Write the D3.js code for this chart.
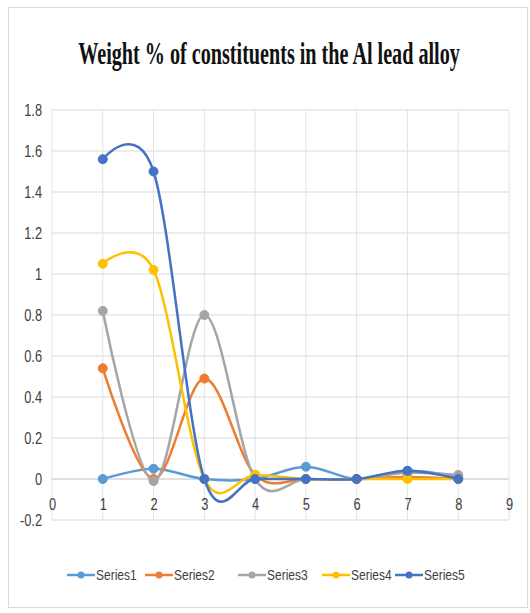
<!DOCTYPE html>
<html><head><meta charset="utf-8">
<script src="https://cdn.jsdelivr.net/npm/d3@7"></script>
<style>body{margin:0;background:#fff}</style>
</head><body>
<svg id="c" width="530" height="613"></svg>
<script>
const xValues = [1,2,3,4,5,6,7,8];
const seriesNames = ["Series1","Series2","Series3","Series4","Series5"];
const series1 = [0, 0.05, 0, 0, 0.06, 0, 0.04, 0.01];
const series2 = [0.54, 0, 0.49, 0.02, 0, 0, 0.01, 0];
const series3 = [0.82, -0.01, 0.8, 0, 0, 0, 0.03, 0.02];
const series4 = [1.05, 1.02, 0, 0.02, 0, 0, 0, 0];
const series5 = [1.56, 1.5, 0, 0, 0, 0, 0.04, 0];
const yTicks = [-0.2,0,0.2,0.4,0.6,0.8,1,1.2,1.4,1.6,1.8];
const xTicks = [0,1,2,3,4,5,6,7,8,9];
const colors = ["#5B9BD5","#ED7D31","#A5A5A5","#FFC000","#4472C4"];
const title = "Weight % of constituents in the Al lead alloy";

const svg = d3.select("#c");
svg.append("rect").attr("x",8.5).attr("y",7.5).attr("width",519).attr("height",600)
  .attr("fill","#fff").attr("stroke","#d9d9d9");

const x = d3.scaleLinear().domain([0,9]).range([52,509]);
const y = d3.scaleLinear().domain([-0.2,1.8]).range([520,110]);
const sans = "'Liberation Sans',Arial,sans-serif";

function condense(sel, f){
  sel.each(function(){
    const w = this.getComputedTextLength();
    d3.select(this).attr("textLength", w*f).attr("lengthAdjust","spacingAndGlyphs");
  });
}

const tt = svg.append("text").attr("x",0).attr("y",0).attr("text-anchor","middle")
  .attr("font-family","'Liberation Serif','Times New Roman',serif").attr("font-weight","bold")
  .attr("font-size",31).attr("fill","#111").text(title);
const tw = tt.node().getComputedTextLength();
tt.attr("transform",`translate(269,64) scale(${382/tw},1)`);

svg.append("g").selectAll("line").data(yTicks).join("line")
  .attr("x1",x(0)).attr("x2",x(9)).attr("y1",d=>y(d)).attr("y2",d=>y(d))
  .attr("stroke",d=>d===0?"#bfbfbf":"#d9d9d9").attr("stroke-width",1);
svg.append("g").selectAll("line").data(xTicks).join("line")
  .attr("x1",d=>x(d)).attr("x2",d=>x(d)).attr("y1",y(-0.2)).attr("y2",y(1.8))
  .attr("stroke","#e3e3e3").attr("stroke-width",1);

const yAxis = svg.append("g").attr("transform",`translate(${x(0)},0)`)
  .call(d3.axisLeft(y).tickValues(yTicks).tickSize(0).tickPadding(10).tickFormat(d=>String(d)));
yAxis.select(".domain").remove();
yAxis.selectAll("text").attr("font-family",sans).attr("font-size",16).attr("fill","#404040").call(condense,0.8);

const xAxis = svg.append("g").attr("transform",`translate(0,${y(-0.2)-20})`)
  .call(d3.axisBottom(x).tickValues(xTicks).tickSize(0).tickPadding(0).tickFormat(d=>String(d)));
xAxis.select(".domain").remove();
xAxis.selectAll("text").attr("font-family",sans).attr("font-size",16).attr("fill","#404040").attr("dy","0.6em").call(condense,0.8);

const data = [series1,series2,series3,series4,series5];
const line = d3.line().x((d,i)=>x(xValues[i])).y(d=>y(d)).curve(d3.curveCardinal.tension(0));
const g = svg.append("g");
data.forEach((s,k)=>{
  g.append("path").datum(s).attr("d",line).attr("fill","none")
    .attr("stroke",colors[k]).attr("stroke-width",2.5);
  g.append("g").selectAll("circle").data(s).join("circle")
    .attr("cx",(d,i)=>x(xValues[i])).attr("cy",d=>y(d)).attr("r",4.5)
    .attr("fill",colors[k]).attr("stroke",colors[k]);
});

const legX = [67,145,238,322,395];
const lg = svg.append("g");
seriesNames.forEach((n,k)=>{
  const gx = legX[k], gy = 575;
  lg.append("line").attr("x1",gx).attr("x2",gx+28).attr("y1",gy).attr("y2",gy)
    .attr("stroke",colors[k]).attr("stroke-width",2.5);
  lg.append("circle").attr("cx",gx+14).attr("cy",gy).attr("r",3.5).attr("fill",colors[k]);
  lg.append("text").attr("x",gx+29).attr("y",gy).attr("dy","0.35em")
    .attr("font-family",sans).attr("font-size",15).attr("fill","#404040").text(n)
    .call(condense,0.8);
});
</script>
</body></html>
